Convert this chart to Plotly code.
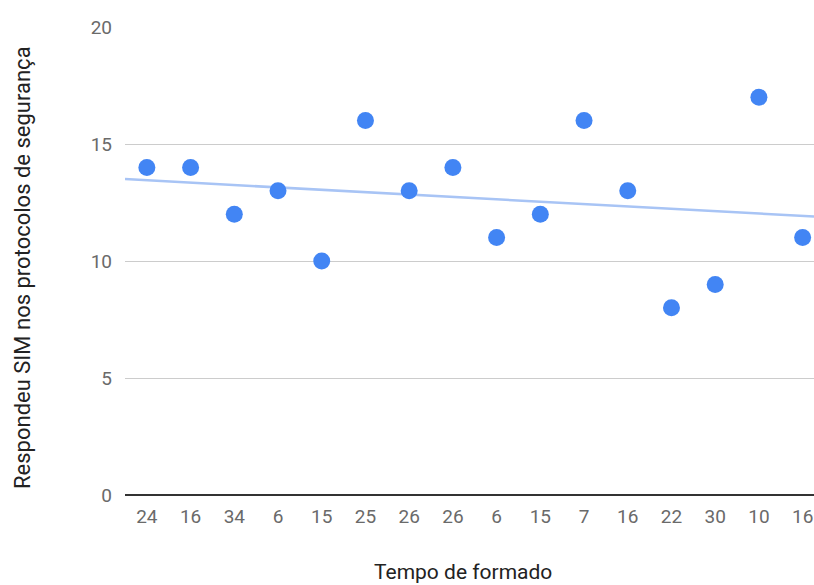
import numpy as np
import plotly.graph_objects as go

tempo_labels = ["24", "16", "34", "6", "15", "25", "26", "26", "6", "15", "7", "16", "22", "30", "10", "16"]
sim_values = [14, 14, 12, 13, 10, 16, 13, 14, 11, 12, 16, 13, 8, 9, 17, 11]
y_ticks = [0, 5, 10, 15, 20]

idx = np.arange(len(sim_values))
slope, intercept = np.polyfit(idx, sim_values, 1)
x_lo, x_hi = -0.5, 15.26
trend_x = [x_lo, x_hi]
trend_y = [intercept + slope * x_lo, intercept + slope * x_hi]

W, H = 814, 585
L, T, B, R = 125, 27, 90, 0
pw, ph = W - L - R, H - T - B

fig = go.Figure()
fig.add_trace(go.Scatter(x=trend_x, y=trend_y, mode="lines",
                         line=dict(color="#a8c4f5", width=2.5), hoverinfo="skip"))
fig.add_trace(go.Scatter(x=idx, y=sim_values, mode="markers",
                         marker=dict(color="#4285f4", size=17, line=dict(width=0))))

fig.update_layout(
    width=W, height=H,
    margin=dict(l=L, r=R, t=T, b=B, autoexpand=False),
    paper_bgcolor="white", plot_bgcolor="white",
    showlegend=False,
    font=dict(family="Roboto", size=19, color="#6a6a6a"),
    xaxis=dict(range=[x_lo, x_hi], tickmode="array", tickvals=list(idx), ticktext=tempo_labels,
               showgrid=False, zeroline=False, showline=False, ticks="", ticklabelstandoff=8),
    yaxis=dict(range=[0, 20], tickmode="array", tickvals=y_ticks,
               showgrid=True, gridcolor="#cccccc", gridwidth=1,
               zeroline=True, zerolinecolor="#333333", zerolinewidth=1.5,
               showline=False, ticks="", ticklabelstandoff=12),
    annotations=[
        dict(text="Tempo de formado", xref="paper", yref="paper",
             x=0.49, y=-77 / ph,
             xanchor="center", yanchor="middle", showarrow=False,
             font=dict(family="Roboto", size=21, color="#222222")),
        dict(text="Respondeu SIM nos protocolos de segurança", xref="paper", yref="paper",
             x=-103 / pw, y=(495 - 268) / ph,
             xanchor="center", yanchor="middle", textangle=-90, showarrow=False,
             font=dict(family="Roboto", size=22, color="#222222")),
    ],
)

fig.write_html(
    "out.html",
    config={"displayModeBar": False},
    post_script="document.documentElement.style.overflow='hidden';"
                "document.body.style.margin='0';document.body.style.overflow='hidden';",
)
